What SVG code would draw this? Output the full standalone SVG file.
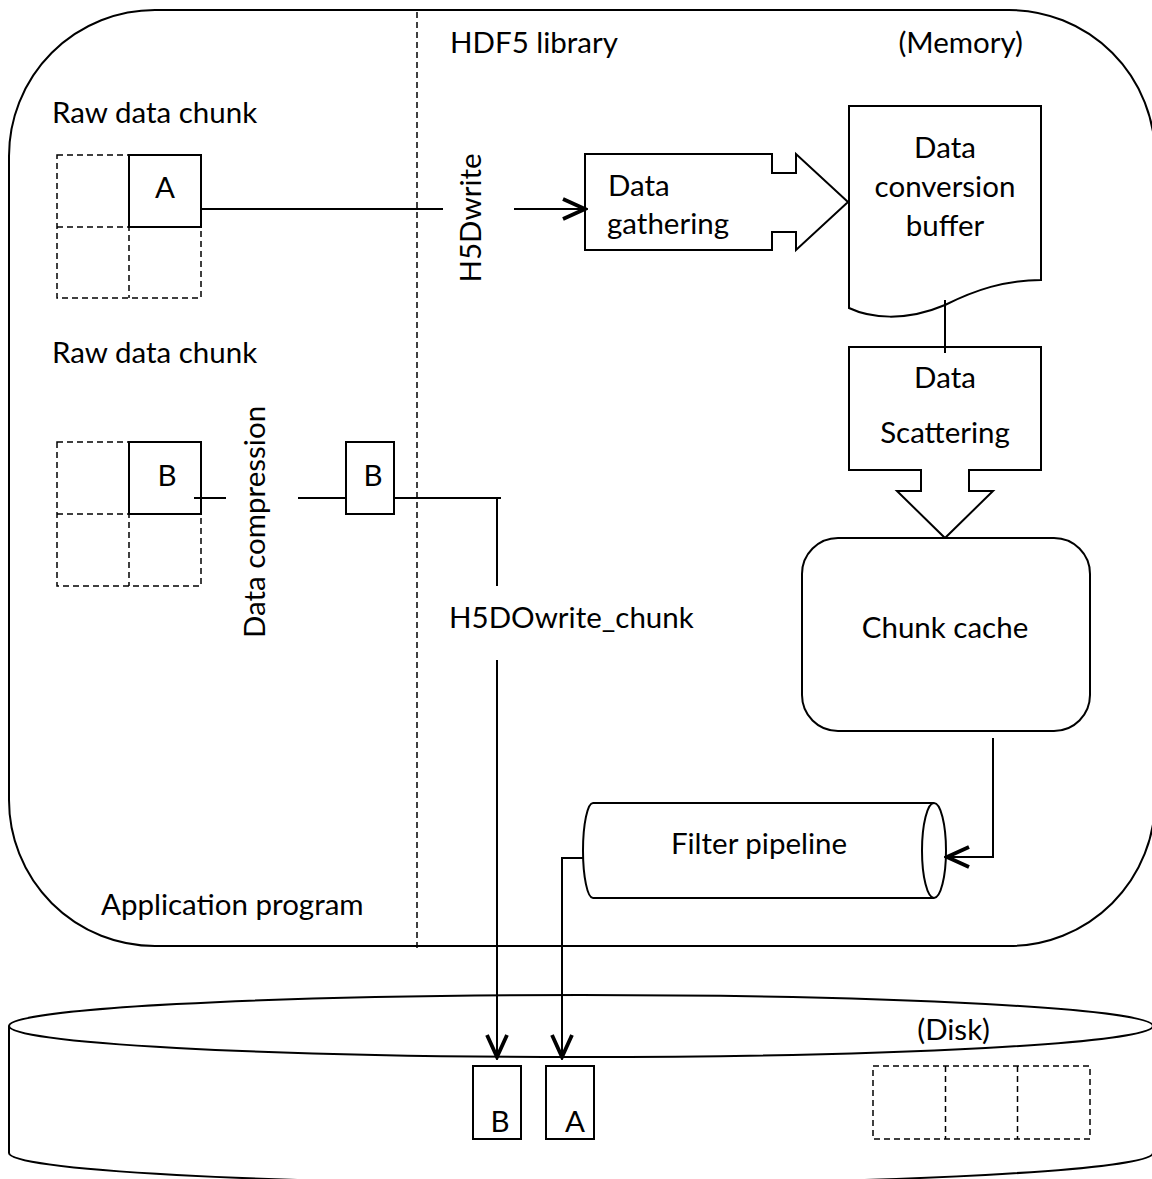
<svg xmlns="http://www.w3.org/2000/svg" width="1152" height="1179" viewBox="0 0 1152 1179">
<style>
.t{font-family:Lato,"Open Sans","Liberation Sans",sans-serif;font-size:29.5px;fill:#000}
.m{text-anchor:middle}
.s{fill:#fff;stroke:#000;stroke-width:2}
.n{fill:none;stroke:#000;stroke-width:2}
.d{fill:none;stroke:#000;stroke-width:1.5;stroke-dasharray:6 4}
</style>
<defs>
<marker id="arr" markerUnits="userSpaceOnUse" viewBox="-3 -3 28 26" markerWidth="28" markerHeight="26" refX="22" refY="10" orient="auto">
<path d="M0,0 L22,10 L0,20" fill="none" stroke="#000" stroke-width="3.8"/>
</marker>
</defs>
<rect width="1152" height="1179" fill="#fff"/>
<g id="memory">
<rect x="9" y="10" width="1146" height="936" rx="146" ry="146" class="s"/>
<line x1="417" y1="12" x2="417" y2="949" class="d"/>
<text x="450" y="53" class="t">HDF5 library</text>
<text x="1023" y="53" class="t" text-anchor="end">(Memory)</text>
<text x="101" y="915" class="t">Application program</text>
</g>
<g id="disk">
<path d="M9,1026 V1153 A572,31 0 0 0 1153,1153 V1026" class="s"/>
<ellipse cx="581" cy="1026" rx="572" ry="31" class="s"/>
<text x="990" y="1040" class="t" text-anchor="end">(Disk)</text>
</g>
<g id="chunkA-grid">
<rect x="57" y="155" width="144" height="143" class="d"/>
<line x1="129" y1="155" x2="129" y2="298" class="d"/>
<line x1="57" y1="227" x2="201" y2="227" class="d"/>
<rect x="129" y="155" width="72" height="72" class="s"/>
<text x="165" y="198" class="t m">A</text>
<text x="52" y="123" class="t">Raw data chunk</text>
</g>
<g id="chunkB-grid">
<rect x="57" y="442" width="144" height="144" class="d"/>
<line x1="129" y1="442" x2="129" y2="586" class="d"/>
<line x1="57" y1="514" x2="201" y2="514" class="d"/>
<rect x="129" y="442" width="72" height="72" class="s"/>
<text x="167" y="486" class="t m">B</text>
<text x="52" y="363" class="t">Raw data chunk</text>
</g>
<g id="chunkB-compressed">
<rect x="346" y="442" width="48" height="72" class="s"/>
<text x="373" y="486" class="t m">B</text>
</g>
<g id="gathering">
<path d="M585,154 H772 V173 H796 V154 L848,202 L796,250 V232 H772 V250 H585 Z" class="s"/>
<text x="608" y="196" class="t">Data</text>
<text x="607" y="234" class="t">gathering</text>
</g>
<g id="conversion-buffer">
<path d="M849,106 H1041 V280 C1005,280 975,290 945,305 C905,322 870,318 849,308 Z" class="s"/>
<text x="945" y="158" class="t m">Data</text>
<text x="945" y="197" class="t m">conversion</text>
<text x="945" y="236" class="t m">buffer</text>
</g>
<g id="scattering">
<path d="M849,347 H1041 V470 H969 V491 H993 L945,538 L897,491 H921 V470 H849 Z" class="s"/>
<text x="945" y="388" class="t m">Data</text>
<text x="945" y="443" class="t m">Scattering</text>
</g>
<g id="chunk-cache">
<rect x="802" y="538" width="288" height="193" rx="36" ry="36" class="s"/>
<text x="945" y="638" class="t m">Chunk cache</text>
</g>
<g id="filter-pipeline">
<path d="M934,803 H593 A10,47.5 0 0 0 593,898 H934" class="s"/>
<ellipse cx="934" cy="850.5" rx="12" ry="47.5" class="s"/>
<text x="759" y="854" class="t m">Filter pipeline</text>
</g>
<g id="disk-chunks">
<rect x="473" y="1066" width="48" height="73" class="s"/>
<text x="500" y="1132" class="t m">B</text>
<rect x="546" y="1066" width="48" height="73" class="s"/>
<text x="575" y="1132" class="t m">A</text>
<rect x="873" y="1066" width="217" height="73" class="d"/>
<line x1="945.5" y1="1066" x2="945.5" y2="1139" class="d"/>
<line x1="1017.5" y1="1066" x2="1017.5" y2="1139" class="d"/>
</g>
<g id="connectors">
<line x1="201" y1="209" x2="443" y2="209" class="n"/>
<line x1="514" y1="209" x2="585" y2="209" class="n" marker-end="url(#arr)"/>
<text transform="translate(481,218) rotate(-90)" class="t m">H5Dwrite</text>
<line x1="194" y1="498" x2="226" y2="498" class="n"/>
<line x1="298" y1="498" x2="346" y2="498" class="n"/>
<text transform="translate(265,522) rotate(-90)" class="t m">Data compression</text>
<line x1="394" y1="498" x2="501" y2="498" class="n"/>
<line x1="497" y1="497" x2="497" y2="586" class="n"/>
<line x1="497" y1="660" x2="497" y2="1057" class="n" marker-end="url(#arr)"/>
<text x="449" y="628" class="t">H5DOwrite_chunk</text>
<line x1="945" y1="300" x2="945" y2="353" class="n"/>
<polyline points="993,738 993,857 947,857" class="n" marker-end="url(#arr)"/>
<polyline points="584,858 562,858 562,1057" class="n" marker-end="url(#arr)"/>
</g>
</svg>
